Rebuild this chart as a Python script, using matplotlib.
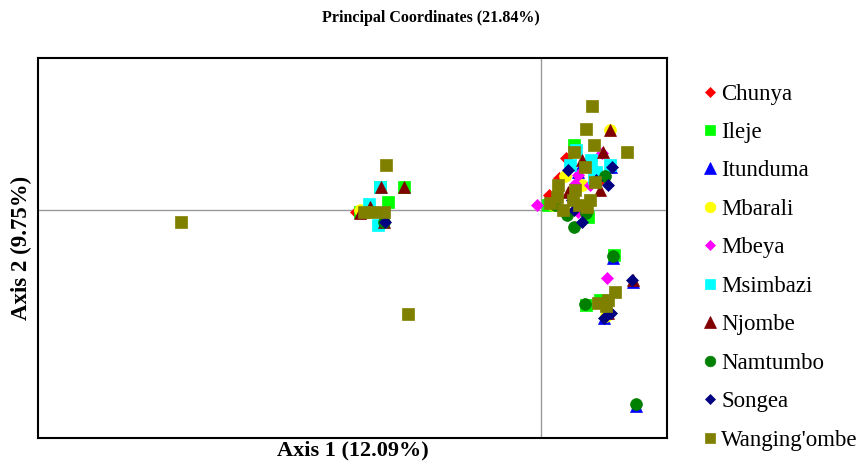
import matplotlib
matplotlib.use("Agg")
import matplotlib.pyplot as plt

plt.rcParams['font.family'] = ['Liberation Serif', 'DejaVu Serif']

groups = ["Chunya", "Ileje", "Itunduma", "Mbarali", "Mbeya", "Msimbazi",
          "Njombe", "Namtumbo", "Songea", "Wanging'ombe"]
colors = ["#ff0000", "#00ff00", "#0000ff", "#ffff00", "#ff00ff", "#00ffff",
          "#800000", "#008000", "#000080", "#808000"]
markers = ["D", "s", "^", "o", "D", "s", "^", "o", "D", "s"]
sizes = [6, 8.5, 9, 8.5, 6, 8.5, 9, 8.5, 6, 8.5]

# axis 1 / axis 2 coordinates per population
chunya_x = [0.025, 0.008, 0.018, 0.021, 0.057, -0.185]
chunya_y = [0.052, 0.015, 0.032, 0.000, 0.028, -0.002]
ileje_x = [-0.153, -0.137, -0.161, -0.181, 0.033, 0.073, 0.045, 0.047, 0.007, 0.059]
ileje_y = [0.008, 0.023, 0.023, -0.002, 0.065, -0.045, -0.095, -0.007, 0.005, -0.090]
itunduma_x = [-0.172, 0.072, 0.095, 0.037, 0.070, 0.092, 0.063]
itunduma_y = [0.005, -0.048, -0.196, 0.038, 0.043, -0.072, -0.108]
mbarali_x = [0.069, 0.024, 0.012, -0.181, 0.065, 0.041]
mbarali_y = [0.080, 0.034, 0.005, 0.000, -0.106, 0.025]
mbeya_x = [-0.004, 0.066, 0.037, 0.034, 0.037, 0.061, 0.049]
mbeya_y = [0.005, -0.068, 0.035, 0.026, -0.002, 0.057, 0.025]
msimbazi_x = [-0.161, -0.172, -0.163, 0.035, 0.050, 0.069, 0.029, 0.055, 0.053]
msimbazi_y = [0.023, 0.006, -0.015, 0.060, 0.050, 0.045, 0.045, 0.038, 0.032]
njombe_x = [-0.160, -0.137, -0.181, -0.171, -0.157, 0.069, 0.062, 0.041, 0.059, 0.067, 0.092, 0.027]
njombe_y = [0.023, 0.023, -0.003, 0.003, -0.012, 0.080, 0.058, 0.050, 0.020, -0.103, -0.070, 0.018]
namtumbo_x = [0.072, 0.095, 0.044, 0.033, 0.064, 0.026, 0.045, -0.157, 0.014]
namtumbo_y = [-0.046, -0.194, -0.094, -0.017, 0.034, -0.005, -0.003, -0.012, 0.005]
songea_x = [0.091, 0.070, 0.063, 0.071, 0.067, 0.027, 0.033, 0.041, 0.031, 0.055, -0.156]
songea_y = [-0.070, -0.103, -0.108, 0.043, 0.025, 0.040, 0.000, -0.012, 0.010, 0.030, -0.012]
wang_x = [-0.360, -0.133, -0.155, -0.177, -0.169, -0.157, 0.051, 0.045, 0.053, 0.086,
          0.033, 0.044, 0.054, 0.017, 0.034, 0.016, 0.009, 0.032, 0.049, 0.022, 0.046,
          0.038, 0.057, 0.067, 0.074, 0.065]
wang_y = [-0.012, -0.104, 0.045, -0.002, -0.002, -0.002, 0.104, 0.081, 0.065, 0.058,
          0.058, 0.043, 0.028, 0.025, 0.020, 0.013, 0.007, 0.010, 0.010, 0.000, 0.003,
          0.005, -0.093, -0.090, -0.082, -0.096]

xs = [chunya_x, ileje_x, itunduma_x, mbarali_x, mbeya_x, msimbazi_x,
      njombe_x, namtumbo_x, songea_x, wang_x]
ys = [chunya_y, ileje_y, itunduma_y, mbarali_y, mbeya_y, msimbazi_y,
      njombe_y, namtumbo_y, songea_y, wang_y]

fig = plt.figure(figsize=(8.61, 4.67), dpi=100)
ax = fig.add_axes([0.0441, 0.0621, 0.7306, 0.8137])

ax.axhline(0, color="#999999", lw=1, zorder=1)
ax.axvline(0, color="#999999", lw=1, zorder=1)

for i, g in enumerate(groups):
    ax.plot(xs[i], ys[i], linestyle="none", marker=markers[i], ms=sizes[i],
            color=colors[i], mec=colors[i], mew=0.5, label=g, zorder=2 + i)

ax.set_xlim(-0.503, 0.126)
ax.set_ylim(-0.228, 0.152)
ax.set_xticks([])
ax.set_yticks([])
for s in ax.spines.values():
    s.set_linewidth(1.5)

ax.set_xlabel("Axis 1 (12.09%)", fontsize=16, fontweight="bold", labelpad=2)
ax.set_ylabel("Axis 2 (9.75%)", fontsize=16.5, fontweight="bold", labelpad=4)
fig.text(0.5, 0.961, "Principal Coordinates (21.84%)", ha="center", va="center",
         fontsize=11.5, fontweight="bold")

ax.legend(loc="upper left", bbox_to_anchor=(1.041, 0.957), frameon=False,
          fontsize=16.5, handlelength=0.7, handletextpad=0.15, labelspacing=0.76,
          markerscale=0.9, borderaxespad=0)

fig.savefig("out.png", dpi=100)
